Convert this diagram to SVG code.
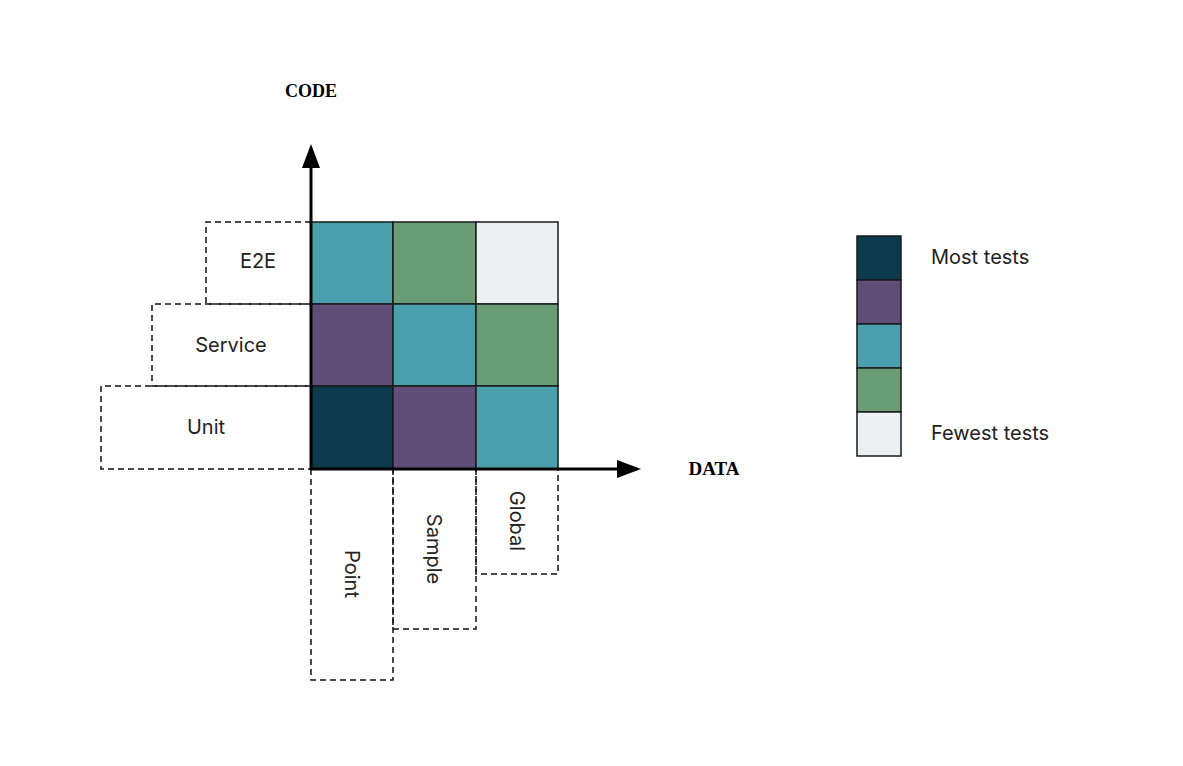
<svg xmlns="http://www.w3.org/2000/svg" width="1183" height="766" viewBox="0 0 1183 766">
<style>
.lbl{font-family:Inter,"Liberation Sans",sans-serif;font-size:20px;fill:#222;}
.ax{font-family:"Liberation Serif",serif;font-weight:bold;font-size:19px;fill:#000;}
.cell{stroke:#1a1a1a;stroke-width:1.5;}
.dash{fill:none;stroke:#111;stroke-width:1.5;stroke-dasharray:6 4;}
.c1{fill:#0a3a4b;}.c2{fill:#614e78;}.c3{fill:#4ba0ae;}.c4{fill:#6a9c76;}.c5{fill:#edf0f3;}
</style>
<defs>
<marker id="ah" markerWidth="24" markerHeight="20" refX="2" refY="10" orient="auto" markerUnits="userSpaceOnUse" viewBox="0 0 24 20">
<path d="M0,1 L24,10 L0,19 z" fill="#000"/>
</marker>
</defs>
<rect width="1183" height="766" fill="#fff"/>
<g id="row-labels">
<g id="e2e"><path class="dash" d="M311,222 H206 V304 H311"/><text class="lbl" x="258" y="268" text-anchor="middle">E2E</text></g>
<g id="service"><path class="dash" d="M311,304 H152 V386 H311"/><text class="lbl" x="231" y="352" text-anchor="middle">Service</text></g>
<g id="unit"><path class="dash" d="M311,386 H101 V469 H311"/><text class="lbl" x="206" y="434" text-anchor="middle">Unit</text></g>
</g>
<g id="col-labels">
<g id="point"><path class="dash" d="M311,469 V680 H393 V469"/><text class="lbl" transform="translate(345,574) rotate(90)" text-anchor="middle">Point</text></g>
<g id="sample"><path class="dash" d="M393,469 V629 H476 V469"/><text class="lbl" transform="translate(427,549) rotate(90)" text-anchor="middle">Sample</text></g>
<g id="global"><path class="dash" d="M476,469 V574 H558 V469"/><text class="lbl" transform="translate(510,521) rotate(90)" text-anchor="middle">Global</text></g>
</g>
<g id="grid">
<rect class="cell c3" x="311" y="222" width="82" height="82"/>
<rect class="cell c4" x="393" y="222" width="83" height="82"/>
<rect class="cell c5" x="476" y="222" width="82" height="82"/>
<rect class="cell c2" x="311" y="304" width="82" height="82"/>
<rect class="cell c3" x="393" y="304" width="83" height="82"/>
<rect class="cell c4" x="476" y="304" width="82" height="82"/>
<rect class="cell c1" x="311" y="386" width="82" height="83"/>
<rect class="cell c2" x="393" y="386" width="83" height="83"/>
<rect class="cell c3" x="476" y="386" width="82" height="83"/>
</g>
<g id="connectors">
<line x1="311" y1="470" x2="311" y2="166" stroke="#000" stroke-width="3" marker-end="url(#ah)"/>
<line x1="310" y1="469" x2="619" y2="469" stroke="#000" stroke-width="3" marker-end="url(#ah)"/>
</g>
<g id="axis-labels">
<text class="ax" x="311" y="97" text-anchor="middle" textLength="52" lengthAdjust="spacingAndGlyphs">CODE</text>
<text class="ax" x="714" y="475" text-anchor="middle" textLength="51" lengthAdjust="spacingAndGlyphs">DATA</text>
</g>
<g id="legend">
<rect class="cell c1" x="857" y="236" width="44" height="44"/>
<rect class="cell c2" x="857" y="280" width="44" height="44"/>
<rect class="cell c3" x="857" y="324" width="44" height="44"/>
<rect class="cell c4" x="857" y="368" width="44" height="44"/>
<rect class="cell c5" x="857" y="412" width="44" height="44"/>
<text class="lbl" x="931" y="264">Most tests</text>
<text class="lbl" x="931" y="440">Fewest tests</text>
</g>
</svg>
